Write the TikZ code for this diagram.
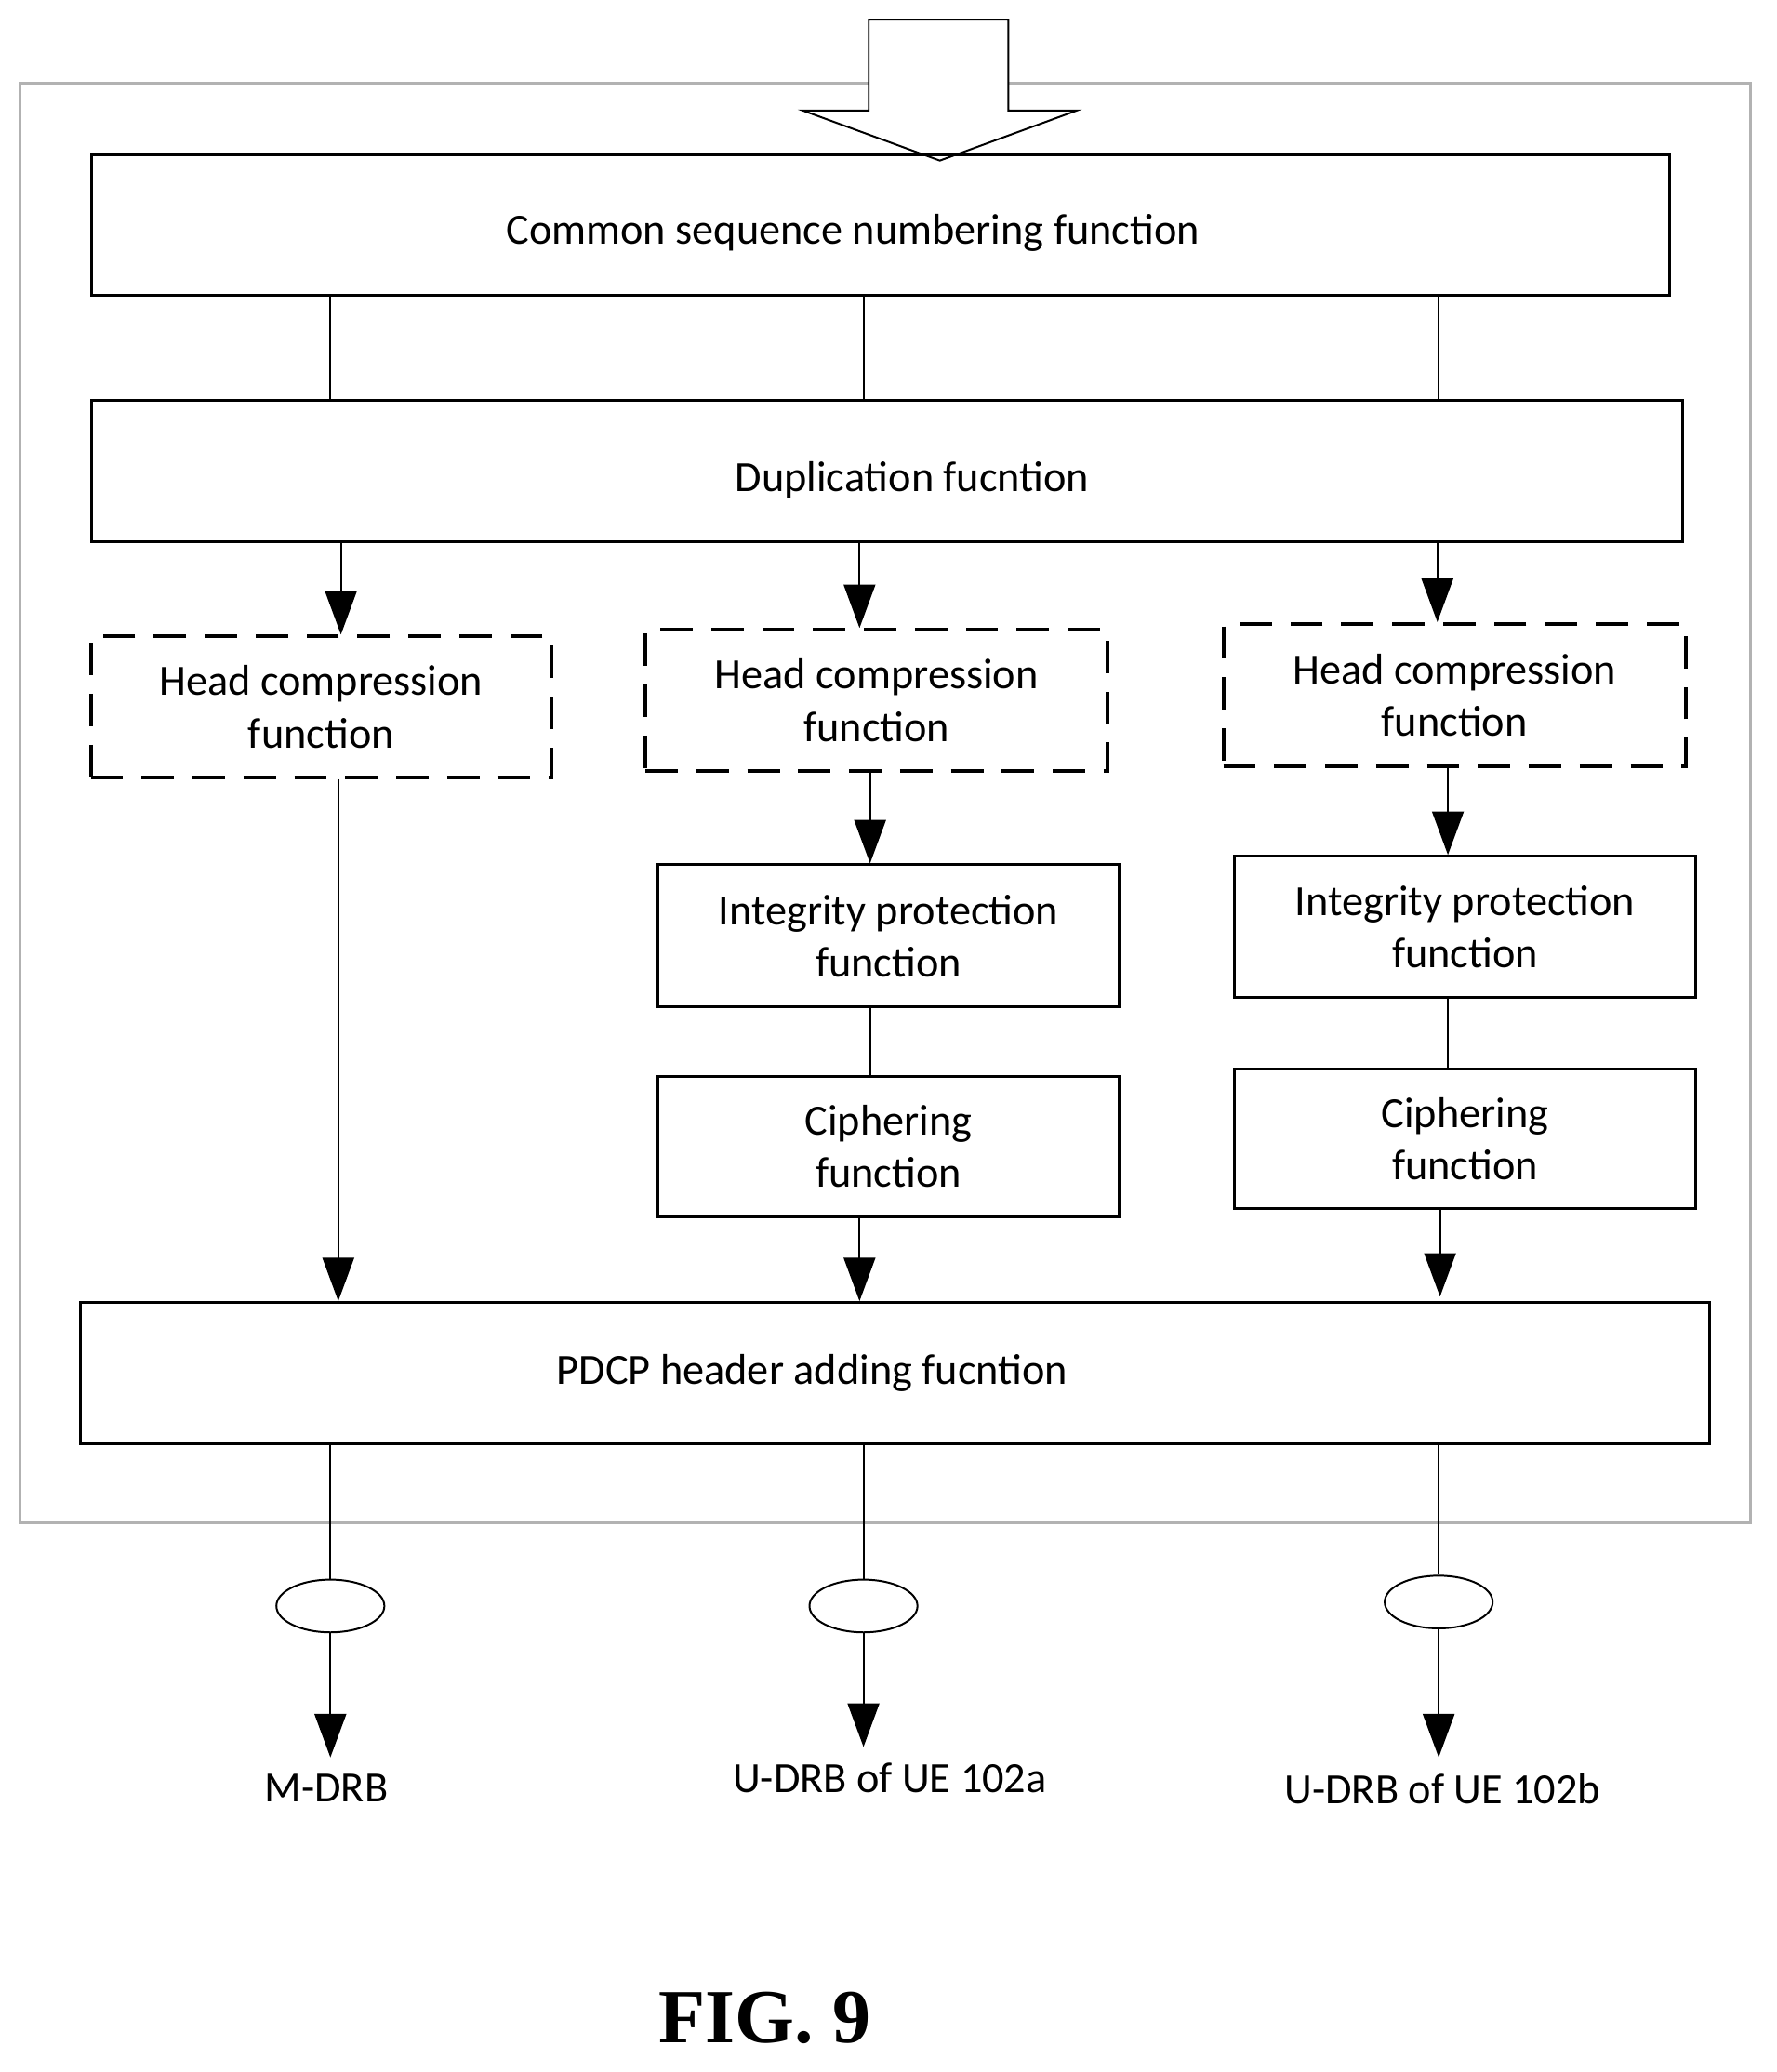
\documentclass[tikz,border=0pt]{standalone}
\usepackage{fontspec}
\setmainfont{Carlito}
\newfontfamily\figfont{Liberation Serif}
\usetikzlibrary{arrows.meta,shapes.geometric}

\begin{document}
\begin{tikzpicture}[x=0.01cm,y=-0.01cm,
    box/.style = {draw, semithick, font=\fontsize{9.3}{11.3}\selectfont, align=center, inner sep=0pt},
    hc/.style  = {box, thick, dashed, dash pattern=on 7pt off 4pt},
    arr/.style = {-{Triangle[length=0.33cm,width=0.24cm]}},
    lbl/.style = {font=\fontsize{9.3}{11.3}\selectfont}]
  \useasboundingbox (0,0) rectangle (1350,1574);
  % outer frame and input arrow
  \draw[gray!60, semithick] (15,63) rectangle (1330,1157);
  \draw[fill=white] (660,15) -- (766,15) -- (766,84) -- (818,84) -- (714,122)
    -- (610,84) -- (660,84) -- cycle;
  % function boxes
  \node[box, minimum width=11.98cm, minimum height=1.07cm] (seq) at (669,171) {};
  \node[lbl] at (648,177) {Common sequence numbering function};
  \node[box, minimum width=12.08cm, minimum height=1.07cm] (dup) at (674,358) {};
  \node[lbl] at (693,365) {Duplication fucntion};
  \node[hc, minimum width=3.5cm, minimum height=1.07cm] (hc1) at (244,537) {Head compression\\function};
  \node[hc, minimum width=3.51cm, minimum height=1.07cm] (hc2) at (666,532) {Head compression\\function};
  \node[hc, minimum width=3.51cm, minimum height=1.08cm] (hc3) at (1105,528) {Head compression\\function};
  \node[box, minimum width=3.5cm, minimum height=1.08cm] (ip2) at (675,711) {Integrity protection\\function};
  \node[box, minimum width=3.5cm, minimum height=1.07cm] (ci2) at (675,871) {Ciphering\\function};
  \node[box, minimum width=3.5cm, minimum height=1.07cm] (ip3) at (1113,704) {Integrity protection\\function};
  \node[box, minimum width=3.5cm, minimum height=1.06cm] (ci3) at (1113,865) {Ciphering\\function};
  \node[box, minimum width=12.37cm, minimum height=1.07cm] (pdcp) at (680,1043) {};
  \node[lbl] at (617,1043) {PDCP header adding fucntion};
  % channels
  \node[draw, ellipse, minimum width=0.82cm, minimum height=0.4cm, inner sep=0pt] (e1) at (251,1220) {};
  \node[draw, ellipse, minimum width=0.82cm, minimum height=0.4cm, inner sep=0pt] (e2) at (656,1220) {};
  \node[draw, ellipse, minimum width=0.82cm, minimum height=0.4cm, inner sep=0pt] (e3) at (1093,1217) {};
  \node[lbl, anchor=north] (m) at (248,1335) {M-DRB};
  \node[lbl, anchor=north] (ua) at (676,1327) {U-DRB of UE 102a};
  \node[lbl, anchor=north] (ub) at (1096,1335) {U-DRB of UE 102b};
  \node[font=\figfont\bfseries\fontsize{16.5}{20}\selectfont] at (581,1533) {FIG. 9};
  % connectors
  \draw (e1.north |- seq.south) -- (e1.north |- dup.north);
  \draw (e2.north |- seq.south) -- (e2.north |- dup.north);
  \draw (e3.north |- seq.south) -- (e3.north |- dup.north);
  \draw[arr] (259,412) -- (hc1.north -| 259,0);
  \draw[arr] (653,412) -- (hc2.north -| 653,0);
  \draw[arr] (1092,412) -- (hc3.north -| 1092,0);
  \draw[arr] (hc1.south -| 257,0) -- (pdcp.north -| 257,0);
  \draw[arr] (hc2.south -| 661,0) -- (ip2.north -| 661,0);
  \draw (ip2.south -| 661,0) -- (ci2.north -| 661,0);
  \draw[arr] (ci2.south -| 653,0) -- (pdcp.north -| 653,0);
  \draw[arr] (hc3.south -| 1100,0) -- (ip3.north -| 1100,0);
  \draw (ip3.south -| 1100,0) -- (ci3.north -| 1100,0);
  \draw[arr] (ci3.south -| 1094,0) -- (1094,985);
  \draw (pdcp.south -| e1.north) -- (e1.north);
  \draw (pdcp.south -| e2.north) -- (e2.north);
  \draw (pdcp.south -| e3.north) -- (e3.north);
  \draw[arr] (e1.south) -- (m.north -| e1.south);
  \draw[arr] (e2.south) -- (ua.north -| e2.south);
  \draw[arr] (e3.south) -- (ub.north -| e3.south);
\end{tikzpicture}
\end{document}
